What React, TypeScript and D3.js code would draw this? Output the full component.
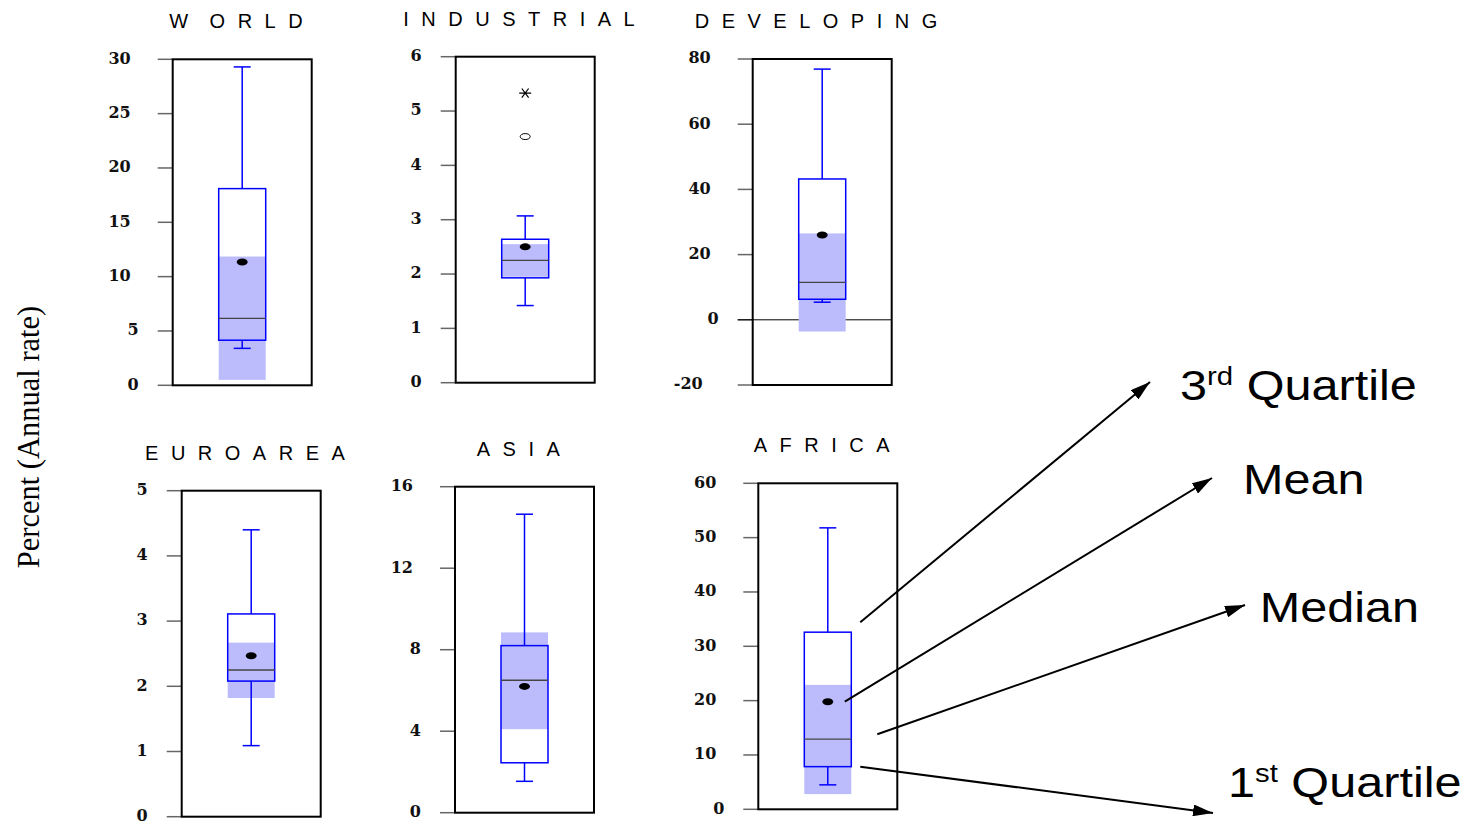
import React from "react";
import * as d3 from "d3";

// ---- data: one entry per region panel ----
const regions = ["W ORLD", "INDUSTRIAL", "DEVELOPING", "EUROAREA", "ASIA", "AFRICA"];
const axisMin = [0, 0, -20, 0, 0, 0];
const axisMax = [30, 6, 80, 5, 16, 60];
const tickValues = [
  [0, 5, 10, 15, 20, 25, 30],
  [0, 1, 2, 3, 4, 5, 6],
  [-20, 0, 20, 40, 60, 80],
  [0, 1, 2, 3, 4, 5],
  [0, 4, 8, 12, 16],
  [0, 10, 20, 30, 40, 50, 60],
];
const whiskerLow = [3.4, 1.42, 5.4, 1.09, 1.54, 4.5];
const quartile1 = [4.15, 1.93, 6.3, 2.08, 2.45, 7.85];
const median = [6.15, 2.25, 11.45, 2.25, 6.5, 12.9];
const mean = [11.35, 2.5, 26.0, 2.47, 6.2, 19.8];
const quartile3 = [18.1, 2.64, 43.2, 3.11, 8.2, 32.6];
const whiskerHigh = [29.3, 3.07, 76.9, 4.4, 14.65, 51.8];
const medianCILow = [0.5, 1.95, -3.6, 1.82, 4.1, 2.8];
const medianCIHigh = [11.85, 2.55, 26.5, 2.67, 8.85, 22.9];
const outsideValues = [[], [4.53], [], [], [], []];
const farOutValues = [[], [5.33], [], [], [], []];

// annotation labels pointing at the AFRICA box
const annotationStats = ["q3", "mean", "median", "q1"];
const annotationMain = ["3", "Mean", "Median", "1"];
const annotationSup = ["rd", "", "", "st"];
const annotationTail = [" Quartile", "", "", " Quartile"];

// ---- layout ----
const panelLeft = [172.7, 455.7, 752.7, 181.7, 455, 758.3];
const panelTop = [59.3, 56.7, 59, 490.7, 486.7, 483.3];
const panelW = 139;
const panelH = 326;
const boxW = 47;
const capHalf = 8.5;
const tickLen = 15;

const BLUE = "#0000ff";
const BAND = "#bcbcfd";

const annoTextX = [1180, 1243, 1259.7, 1228];
const annoTextY = [399.5, 494, 622, 796.7];
const annoTip = [
  [1150, 382],
  [1212, 478],
  [1245, 605],
  [1213, 813],
];

function statValue(i: number, key: string) {
  if (key === "q3") return quartile3[i];
  if (key === "q1") return quartile1[i];
  if (key === "median") return median[i];
  return mean[i];
}

function Panel({ i }: { i: number }) {
  const y = d3.scaleLinear().domain([axisMin[i], axisMax[i]]).range([panelH, 0]);
  const cx = panelW / 2;
  const parts = regions[i].split(" ");
  const asterisk = "M-6,0L6,0M-3.4,-4.6L3.4,4.6M-3.4,4.6L3.4,-4.6";
  return (
    <g transform={`translate(${panelLeft[i]},${panelTop[i]})`}>
      <text
        x={cx}
        y={-31}
        textAnchor="middle"
        fontFamily="'Liberation Sans', Arial, sans-serif"
        fontSize={20}
        letterSpacing={12.5}
        fill="#000"
      >
        {parts.map((p, k) => (
          <tspan key={k} dx={k > 0 ? 9 : 0}>
            {p}
          </tspan>
        ))}
      </text>
      {tickValues[i].map((t) => (
        <g key={t}>
          <line x1={-tickLen} x2={0} y1={y(t)} y2={y(t)} stroke="#666" strokeWidth={1.5} />
          <text
            x={-tickLen - 19 - (String(t).length - 1) * 8}
            y={y(t)}
            dy="0.27em"
            textAnchor="end"
            fontFamily="'DejaVu Serif', serif"
            fontWeight="bold"
            fontSize={16}
            fill="#111"
          >
            {t}
          </text>
        </g>
      ))}
      {axisMin[i] < 0 && (
        <line x1={-tickLen} x2={panelW} y1={y(0)} y2={y(0)} stroke="#000" strokeWidth={1} />
      )}
      {/* median confidence band */}
      <rect
        x={cx - boxW / 2}
        y={y(medianCIHigh[i])}
        width={boxW}
        height={y(medianCILow[i]) - y(medianCIHigh[i])}
        fill={BAND}
      />
      {/* whiskers */}
      <line x1={cx} x2={cx} y1={y(quartile3[i])} y2={y(whiskerHigh[i])} stroke={BLUE} strokeWidth={1.5} />
      <line x1={cx} x2={cx} y1={y(quartile1[i])} y2={y(whiskerLow[i])} stroke={BLUE} strokeWidth={1.5} />
      <line x1={cx - capHalf} x2={cx + capHalf} y1={y(whiskerHigh[i])} y2={y(whiskerHigh[i])} stroke={BLUE} strokeWidth={1.5} />
      <line x1={cx - capHalf} x2={cx + capHalf} y1={y(whiskerLow[i])} y2={y(whiskerLow[i])} stroke={BLUE} strokeWidth={1.5} />
      {/* box */}
      <rect
        x={cx - boxW / 2}
        y={y(quartile3[i])}
        width={boxW}
        height={y(quartile1[i]) - y(quartile3[i])}
        fill="none"
        stroke={BLUE}
        strokeWidth={1.5}
      />
      <line x1={cx - boxW / 2} x2={cx + boxW / 2} y1={y(median[i])} y2={y(median[i])} stroke="#444" strokeWidth={1.3} />
      <ellipse cx={cx} cy={y(mean[i])} rx={5.5} ry={3.5} fill="#000" />
      {outsideValues[i].map((v, k) => (
        <ellipse key={"o" + k} cx={cx} cy={y(v)} rx={5} ry={3} fill="none" stroke="#000" strokeWidth={1} />
      ))}
      {farOutValues[i].map((v, k) => (
        <path key={"f" + k} d={asterisk} transform={`translate(${cx},${y(v)})`} stroke="#000" strokeWidth={1.2} fill="none" />
      ))}
      <rect x={0} y={0} width={panelW} height={panelH} fill="none" stroke="#000" strokeWidth={2} />
    </g>
  );
}

export default function App() {
  const af = 5;
  const yAf = d3.scaleLinear().domain([axisMin[af], axisMax[af]]).range([panelTop[af] + panelH, panelTop[af]]);
  const afCx = panelLeft[af] + panelW / 2;
  const afRight = afCx + boxW / 2;
  const startOffsets: Record<string, [number, number]> = {
    q3: [afRight + 9, -10],
    mean: [afCx + 17, 0],
    median: [afRight + 26, -5],
    q1: [afRight + 9, 0],
  };
  return (
    <svg
      width={1475}
      height={824}
      style={{ position: "absolute", left: 0, top: 0, background: "#fff" }}
    >
      <defs>
        <marker id="arrowHeadBig" viewBox="0 0 20 12" refX={20} refY={6} markerWidth={20} markerHeight={12} markerUnits="userSpaceOnUse" orient="auto">
          <path d="M0,0L20,6L0,12Z" fill="#000" />
        </marker>
      </defs>
      <rect width={1475} height={824} fill="#fff" />
      <text
        transform="translate(39,437) rotate(-90)"
        textAnchor="middle"
        fontFamily="'Liberation Serif', 'Times New Roman', serif"
        fontSize={30.5}
        fill="#000"
      >
        Percent (Annual rate)
      </text>
      {regions.map((_, i) => (
        <Panel key={i} i={i} />
      ))}
      {annotationStats.map((s, k) => {
        const [sx, dy] = startOffsets[s];
        const sy = yAf(statValue(af, s)) + dy;
        return (
          <g key={s}>
            <line
              x1={sx}
              y1={sy}
              x2={annoTip[k][0]}
              y2={annoTip[k][1]}
              stroke="#000"
              strokeWidth={2}
              markerEnd="url(#arrowHeadBig)"
            />
            <text
              transform={`translate(${annoTextX[k]},${annoTextY[k]}) scale(1.13,1)`}
              fontFamily="'Liberation Sans', Arial, sans-serif"
              fontSize={43}
              fill="#000"
            >
              {annotationMain[k]}
              {annotationSup[k] && (
                <tspan fontSize={26} dy={-15}>
                  {annotationSup[k]}
                </tspan>
              )}
              {annotationTail[k] && <tspan dy={15}>{annotationTail[k]}</tspan>}
            </text>
          </g>
        );
      })}
    </svg>
  );
}
